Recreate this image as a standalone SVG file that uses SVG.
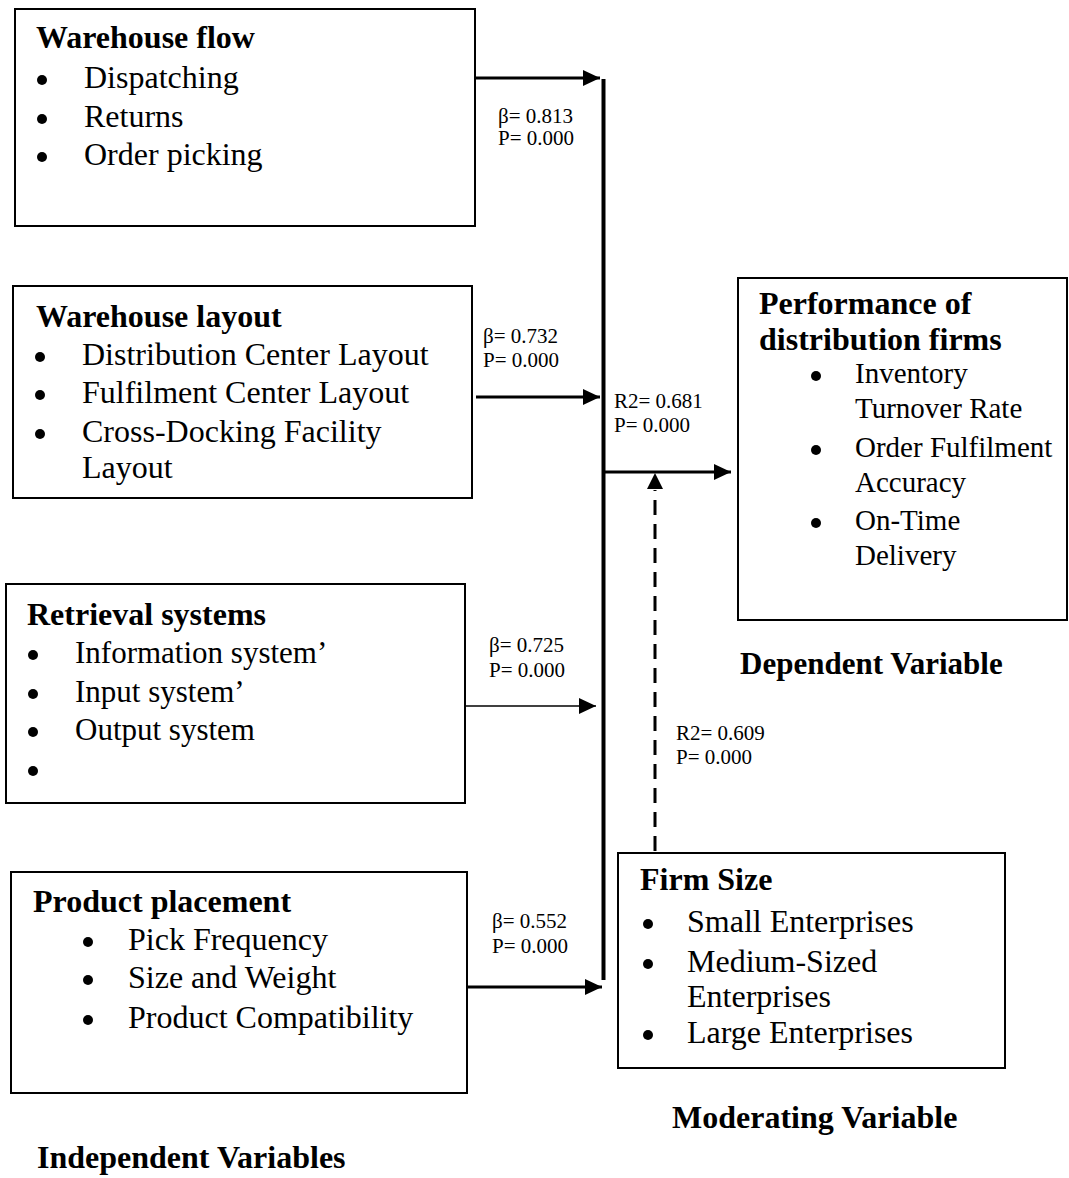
<svg xmlns="http://www.w3.org/2000/svg" width="1069" height="1178" viewBox="0 0 1069 1178">
<style>
.box{fill:#fff;stroke:#000;stroke-width:2}
.t{font-family:"Liberation Serif","Times New Roman",serif;font-size:32px;fill:#000}
.b{font-weight:bold}
.s{font-size:29px}
.m{font-size:31px}
.lab{font-family:"Liberation Serif","Times New Roman",serif;font-size:21px;fill:#000}
.dot{fill:#000}
.ln{stroke:#000;stroke-width:3;fill:none}
.thin{stroke:#000;stroke-width:1.6;fill:none}
.dash{stroke:#000;stroke-width:3;fill:none;stroke-dasharray:15 9}
</style>
<defs>
<marker id="ah" markerUnits="userSpaceOnUse" markerWidth="17" markerHeight="16" refX="17" refY="8" orient="auto">
<path d="M0,0 L17,8 L0,16 Z" fill="#000"/>
</marker>
</defs>
<rect width="1069" height="1178" fill="#fff"/>

<g id="warehouse-flow">
<rect class="box" x="15" y="9" width="460" height="217"/>
<text class="t b" x="36" y="48">Warehouse flow</text>
<circle class="dot" cx="42" cy="80" r="5"/><text class="t" x="84" y="88">Dispatching</text>
<circle class="dot" cx="42" cy="119" r="5"/><text class="t" x="84" y="127">Returns</text>
<circle class="dot" cx="42" cy="157" r="5"/><text class="t" x="84" y="165">Order picking</text>
</g>

<g id="warehouse-layout">
<rect class="box" x="13" y="286" width="459" height="212"/>
<text class="t b" x="36" y="327">Warehouse layout</text>
<circle class="dot" cx="40" cy="357" r="5"/><text class="t" x="82" y="365">Distribution Center Layout</text>
<circle class="dot" cx="40" cy="395" r="5"/><text class="t" x="82" y="403">Fulfilment Center Layout</text>
<circle class="dot" cx="40" cy="434" r="5"/><text class="t" x="82" y="442">Cross-Docking Facility</text>
<text class="t" x="82" y="478">Layout</text>
</g>

<g id="retrieval-systems">
<rect class="box" x="6" y="584" width="459" height="219"/>
<text class="t b" x="27" y="625">Retrieval systems</text>
<circle class="dot" cx="33" cy="655" r="5"/><text class="t m" x="75" y="663">Information system’</text>
<circle class="dot" cx="33" cy="694" r="5"/><text class="t m" x="75" y="702">Input system’</text>
<circle class="dot" cx="33" cy="732" r="5"/><text class="t m" x="75" y="740">Output system</text>
<circle class="dot" cx="33" cy="771" r="5"/>
</g>

<g id="product-placement">
<rect class="box" x="11" y="872" width="456" height="221"/>
<text class="t b" x="33" y="912">Product placement</text>
<circle class="dot" cx="88" cy="942" r="5"/><text class="t" x="128" y="950">Pick Frequency</text>
<circle class="dot" cx="88" cy="980" r="5"/><text class="t" x="128" y="988">Size and Weight</text>
<circle class="dot" cx="88" cy="1020" r="5"/><text class="t" x="128" y="1028">Product Compatibility</text>
</g>

<g id="performance">
<rect class="box" x="738" y="278" width="329" height="342"/>
<text class="t b" x="759" y="314">Performance of</text>
<text class="t b" x="759" y="350">distribution firms</text>
<circle class="dot" cx="816" cy="376" r="5"/><text class="t s" x="855" y="383">Inventory</text>
<text class="t s" x="855" y="418">Turnover Rate</text>
<circle class="dot" cx="816" cy="450" r="5"/><text class="t s" x="855" y="457">Order Fulfilment</text>
<text class="t s" x="855" y="492">Accuracy</text>
<circle class="dot" cx="816" cy="523" r="5"/><text class="t s" x="855" y="530">On-Time</text>
<text class="t s" x="855" y="565">Delivery</text>
</g>

<g id="firm-size">
<rect class="box" x="618" y="853" width="387" height="215"/>
<text class="t b" x="640" y="890">Firm Size</text>
<circle class="dot" cx="648" cy="924" r="5"/><text class="t" x="687" y="932">Small Enterprises</text>
<circle class="dot" cx="648" cy="964" r="5"/><text class="t" x="687" y="972">Medium-Sized</text>
<text class="t" x="687" y="1007">Enterprises</text>
<circle class="dot" cx="648" cy="1035" r="5"/><text class="t" x="687" y="1043">Large Enterprises</text>
</g>

<g id="captions">
<text class="t b m" x="740" y="674">Dependent Variable</text>
<text class="t b" x="672" y="1128">Moderating Variable</text>
<text class="t b" x="37" y="1168">Independent Variables</text>
</g>

<g id="connectors">
<line class="ln" x1="476" y1="78" x2="600" y2="78" marker-end="url(#ah)"/>
<line class="ln" x1="476" y1="397" x2="600" y2="397" marker-end="url(#ah)"/>
<line class="thin" x1="466" y1="706" x2="596" y2="706" marker-end="url(#ah)"/>
<line class="ln" x1="467" y1="987" x2="602" y2="987" marker-end="url(#ah)"/>
<line x1="603.5" y1="79" x2="603.5" y2="980" stroke="#000" stroke-width="4"/>
<line class="ln" x1="603" y1="472" x2="731" y2="472" marker-end="url(#ah)"/>
<line class="dash" x1="655" y1="851" x2="655" y2="490"/>
<path d="M647,489 L655,473 L663,489 Z" fill="#000"/>
<text class="lab" x="498" y="123">β= 0.813</text>
<text class="lab" x="498" y="145">P= 0.000</text>
<text class="lab" x="483" y="343">β= 0.732</text>
<text class="lab" x="483" y="367">P= 0.000</text>
<text class="lab" x="614" y="408">R2= 0.681</text>
<text class="lab" x="614" y="432">P= 0.000</text>
<text class="lab" x="489" y="652">β= 0.725</text>
<text class="lab" x="489" y="677">P= 0.000</text>
<text class="lab" x="676" y="740">R2= 0.609</text>
<text class="lab" x="676" y="764">P= 0.000</text>
<text class="lab" x="492" y="928">β= 0.552</text>
<text class="lab" x="492" y="953">P= 0.000</text>
</g>
</svg>
